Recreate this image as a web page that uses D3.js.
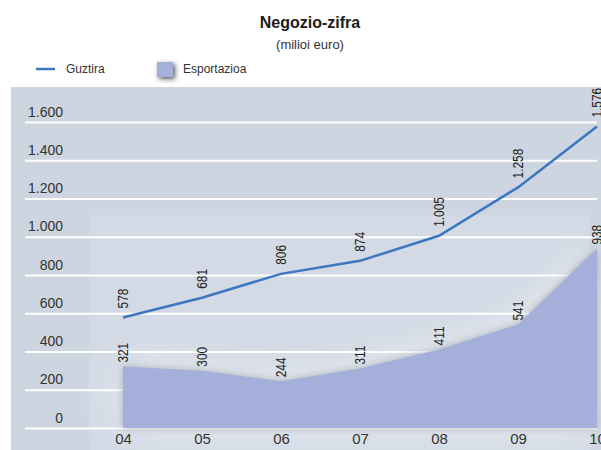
<!DOCTYPE html>
<html>
<head>
<meta charset="utf-8">
<script src="https://cdn.jsdelivr.net/npm/d3@7"></script>
<style>
  body { margin: 0; background: #fff; }
  svg { display: block; font-family: 'Liberation Sans', Arial, sans-serif; }
  .val { font-family: 'Liberation Sans Narrow', 'Liberation Sans', sans-serif; }
</style>
</head>
<body>
<svg width="601" height="450"></svg>
<script>
const years = ['04', '05', '06', '07', '08', '09', '10'];
const guztira = [578, 681, 806, 874, 1005, 1258, 1576];
const esportazioa = [321, 300, 244, 311, 411, 541, 938];
const yTicks = [0, 200, 400, 600, 800, 1000, 1200, 1400, 1600];

const fmt = d3.formatLocale({ decimal: ',', thousands: '.', grouping: [3], currency: ['', '€'] }).format(',d');

const svg = d3.select('svg');
const defs = svg.append('defs');

const shadow = defs.append('filter').attr('id', 'shadow')
  .attr('x', '-20%').attr('y', '-40%').attr('width', '140%').attr('height', '180%');
shadow.append('feGaussianBlur').attr('in', 'SourceAlpha').attr('stdDeviation', 20).attr('result', 'glow');
shadow.append('feFlood').attr('flood-color', '#ffffff').attr('flood-opacity', 0.6);
shadow.append('feComposite').attr('in2', 'glow').attr('operator', 'in').attr('result', 'white');
shadow.append('feGaussianBlur').attr('in', 'SourceAlpha').attr('stdDeviation', 5).attr('result', 'blur');
shadow.append('feFlood').attr('flood-color', '#5a6070').attr('flood-opacity', 0.6);
shadow.append('feComposite').attr('in2', 'blur').attr('operator', 'in').attr('result', 'dark');
const merge = shadow.append('feMerge');
merge.append('feMergeNode').attr('in', 'white');
merge.append('feMergeNode').attr('in', 'dark');
merge.append('feMergeNode').attr('in', 'SourceGraphic');

const boxShadow = defs.append('filter').attr('id', 'boxShadow')
  .attr('x', '-50%').attr('y', '-50%').attr('width', '220%').attr('height', '220%');
boxShadow.append('feDropShadow').attr('dx', 2).attr('dy', 2).attr('stdDeviation', 2.5)
  .attr('flood-color', '#333').attr('flood-opacity', 0.8);

// title
svg.append('text').attr('x', 310).attr('y', 28).attr('text-anchor', 'middle')
  .attr('font-size', 16).attr('font-weight', 'bold').attr('fill', '#1a1a1a').text('Negozio-zifra');
svg.append('text').attr('x', 310).attr('y', 49).attr('text-anchor', 'middle')
  .attr('font-size', 13).attr('fill', '#333').text('(milioi euro)');

// legend
svg.append('line').attr('x1', 36).attr('x2', 55).attr('y1', 69).attr('y2', 69)
  .attr('stroke', '#3b76c0').attr('stroke-width', 2.5);
svg.append('text').attr('x', 66).attr('y', 73).attr('font-size', 12).attr('fill', '#333').text('Guztira');
svg.append('rect').attr('x', 157).attr('y', 62).attr('width', 16).attr('height', 15)
  .attr('fill', '#a4b0da').attr('filter', 'url(#boxShadow)');
svg.append('text').attr('x', 183).attr('y', 73).attr('font-size', 12).attr('fill', '#333').text('Esportazioa');

// panels
svg.append('rect').attr('x', 11).attr('y', 87).attr('width', 590).attr('height', 363).attr('fill', '#cdd5e1');
svg.append('rect').attr('x', 89).attr('y', 215).attr('width', 501).attr('height', 235).attr('fill', '#d3dae5');

const x = d3.scalePoint().domain(years).range([123, 597]);
const y = d3.scaleLinear().domain([0, 1600]).range([428, 122]);

// grid + y labels
const yAxis = svg.append('g').attr('transform', 'translate(63,0)')
  .call(d3.axisLeft(y).tickValues(yTicks).tickFormat(fmt).tickSize(-534).tickPadding(0));
yAxis.select('.domain').remove();
yAxis.selectAll('.tick line').attr('stroke', '#fff').attr('stroke-width', 2).attr('x1', -38);
yAxis.selectAll('.tick text').attr('font-size', 14).attr('fill', '#333')
  .attr('font-family', "'Liberation Sans', Arial, sans-serif").attr('dy', -6).attr('x', 0);

// area
const area = d3.area().x((d, i) => x(years[i])).y0(y(0)).y1(d => y(d));
svg.append('path').datum(esportazioa).attr('d', area).attr('fill', '#a4b0da').attr('filter', 'url(#shadow)');

// line
const line = d3.line().x((d, i) => x(years[i])).y(d => y(d));
svg.append('path').datum(guztira).attr('d', line).attr('fill', 'none')
  .attr('stroke', '#3b76c0').attr('stroke-width', 2.5);

// value labels (condensed look)
const addLabels = (values, gap) => {
  svg.append('g').selectAll('text').data(values).join('text')
    .attr('class', 'val')
    .attr('transform', (d, i) => `translate(${x(years[i]) + 5},${y(d) - gap}) rotate(-90) scale(0.85,1)`)
    .attr('font-size', 14).attr('fill', '#222')
    .text(d => fmt(d));
};
addLabels(guztira, 9);
addLabels(esportazioa, 4);

// x labels
const xAxis = svg.append('g').attr('transform', `translate(0,${y(0)})`)
  .call(d3.axisBottom(x).tickSize(0).tickPadding(0));
xAxis.select('.domain').remove();
xAxis.selectAll('.tick text').attr('font-size', 15).attr('fill', '#333')
  .attr('font-family', "'Liberation Sans', Arial, sans-serif").attr('dy', 16);
</script>
</body>
</html>
